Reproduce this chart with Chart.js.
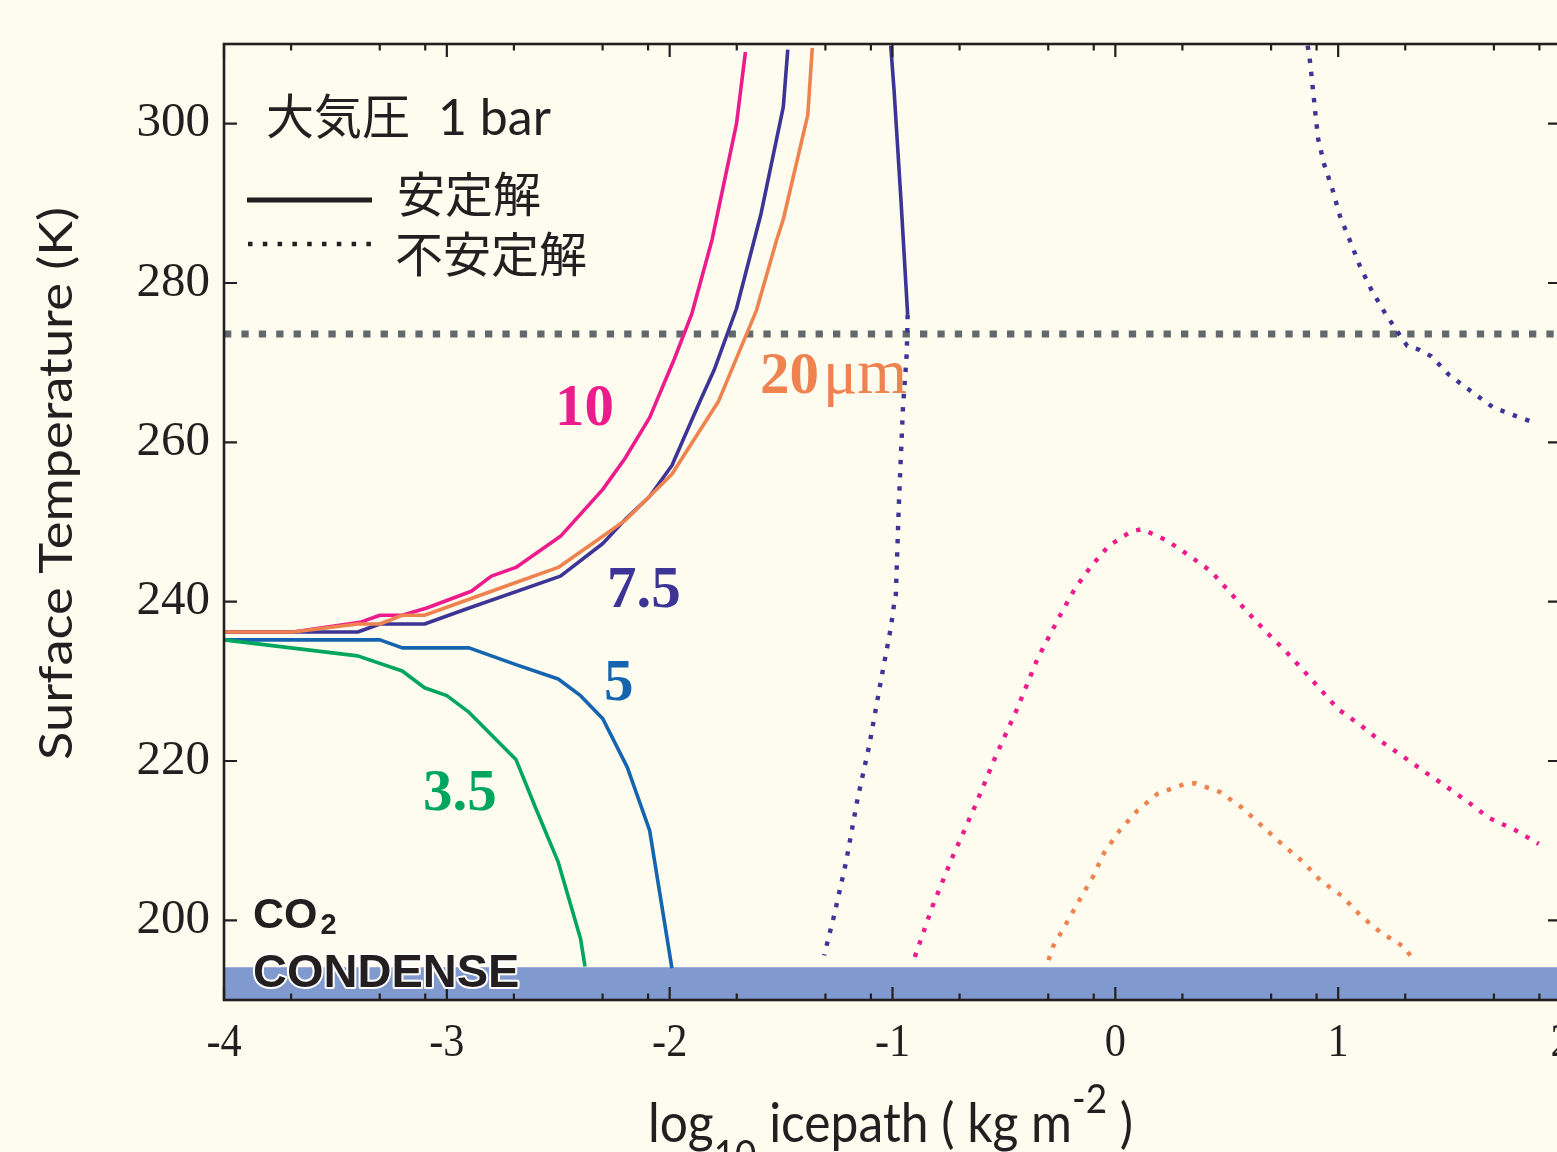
<!DOCTYPE html>
<html>
<head>
<meta charset="utf-8">
<script src="https://cdn.jsdelivr.net/npm/chart.js@4.4.1/dist/chart.umd.min.js"></script>
<style>
  html, body { margin: 0; padding: 0; background: #FEFCEF; overflow: hidden; width: 1557px; height: 1152px; }
  #wrap { width: 1600px; height: 1152px; }
  canvas { display: block; background: #FEFCEF; }
</style>
</head>
<body>
<div id="wrap"><canvas id="c" width="1600" height="1152"></canvas></div>
<script>
// Axis ticks
const xTickValues = [-4, -3, -2, -1, 0, 1, 2];
const yTickValues = [200, 220, 240, 260, 280, 300];
const minorTickMultipliers = [2, 5, 8];

// Reference levels
const meltingT = 273.6;      // 0 °C line as plotted
const condenseT = 194.1;     // CO2 condensation ceiling

// Effective radius 10 µm
const r10StableX = [-4, -3.69, -3.39, -3.30, -3.20, -3.09, -2.89, -2.80, -2.69, -2.49, -2.30, -2.20, -2.09, -1.98, -1.90, -1.81, -1.70, -1.66];
const r10StableT = [236.2, 236.2, 237.4, 238.3, 238.3, 239.2, 241.3, 243.2, 244.3, 248.2, 254.1, 258.0, 263.1, 270.4, 276.2, 285.4, 300.0, 309.0];
const r10UnstableX = [-0.90, -0.82, -0.73, -0.63, -0.54, -0.44, -0.35, -0.24, -0.18, -0.11, -0.03, 0.07, 0.12, 0.23, 0.33, 0.43, 0.51, 0.59, 0.67, 0.76, 0.84, 0.92, 1.00, 1.10, 1.19, 1.29, 1.39, 1.49, 1.59, 1.68, 1.79, 1.90];
const r10UnstableT = [195.4, 201.8, 208.0, 214.3, 220.4, 226.6, 232.8, 238.7, 241.7, 244.4, 247.0, 248.8, 249.1, 247.7, 245.8, 243.8, 241.3, 238.8, 236.4, 233.9, 231.5, 229.0, 226.5, 224.5, 222.5, 220.6, 218.6, 216.7, 214.7, 212.8, 211.4, 209.6];

// Effective radius 7.5 µm
const r75StableX = [-4, -3.69, -3.40, -3.30, -3.10, -2.90, -2.49, -2.30, -2.20, -2.09, -1.99, -1.86, -1.80, -1.70, -1.59, -1.49, -1.47];
const r75StableT = [236.2, 236.2, 236.2, 237.2, 237.2, 239.2, 243.2, 247.3, 250.3, 253.2, 257.1, 265.4, 269.1, 276.8, 288.7, 302.1, 309.3];
const r75Stable2X = [-1.008, -0.993, -0.962, -0.932];
const r75Stable2T = [309.8, 304.2, 290.4, 276.0];
const r75UnstableX = [-0.932, -0.936, -0.944, -0.953, -0.971, -0.985, -0.992, -1.007, -1.052, -1.104, -1.157, -1.210, -1.262, -1.307];
const r75UnstableT = [276.0, 271.2, 267.9, 264.4, 252.6, 240.9, 239.9, 236.8, 230.1, 222.0, 215.2, 207.1, 200.6, 195.6];
const r75Unstable2X = [0.863, 0.872, 0.885, 0.897, 0.910, 0.937, 0.975, 1.008, 1.053, 1.098, 1.150, 1.211, 1.273, 1.310, 1.366, 1.418, 1.500, 1.597, 1.695, 1.807, 1.867];
const r75Unstable2T = [309.8, 308.2, 304.8, 301.5, 298.1, 294.9, 291.7, 288.4, 285.3, 282.1, 279.1, 276.2, 273.6, 272.1, 271.6, 270.8, 268.4, 266.4, 264.4, 263.2, 262.6];

// Effective radius 20 µm
const r20StableX = [-4, -3.69, -3.40, -3.30, -3.20, -3.10, -2.90, -2.69, -2.50, -2.30, -2.20, -1.99, -1.78, -1.61, -1.52, -1.49, -1.38, -1.36];
const r20StableT = [236.2, 236.2, 237.2, 237.2, 238.3, 238.3, 240.3, 242.4, 244.3, 248.2, 250.2, 256.0, 265.2, 276.6, 285.4, 288.0, 301.1, 309.5];
const r20UnstableX = [-0.30, -0.28, -0.22, -0.16, -0.10, -0.05, 0.02, 0.10, 0.19, 0.31, 0.36, 0.47, 0.57, 0.66, 0.75, 0.84, 0.92, 1.02, 1.10, 1.19, 1.30, 1.33];
const r20UnstableT = [195.0, 196.7, 199.6, 202.6, 205.5, 208.5, 211.3, 213.8, 215.9, 217.1, 217.2, 216.1, 214.1, 211.8, 209.5, 207.4, 205.0, 203.0, 200.6, 198.5, 196.6, 195.3];

// Effective radius 5 µm
const r5StableX = [-4, -3.30, -3.20, -2.90, -2.69, -2.50, -2.40, -2.30, -2.19, -2.09, -1.99];
const r5StableT = [235.2, 235.2, 234.2, 234.2, 232.1, 230.3, 228.2, 225.3, 219.2, 211.3, 194.0];

// Effective radius 3.5 µm
const r35StableX = [-4, -3.40, -3.20, -3.10, -3.00, -2.90, -2.69, -2.60, -2.50, -2.40, -2.38];
const r35StableT = [235.2, 233.2, 231.3, 229.2, 228.2, 226.1, 220.2, 214.0, 207.3, 197.7, 194.2];

const C = {
  ink: '#231F20',
  pink: '#EC1C8C',
  purple: '#3C3596',
  orange: '#EE834F',
  blue: '#1464AF',
  green: '#00A65D',
  gray: '#62696C',
  band: '#8099CE'
};

const pts = (xs, ts) => xs.map((x, i) => ({ x, y: ts[i] }));
const solid = (xs, ts, color) => ({
  data: pts(xs, ts), borderColor: color, borderWidth: 3.6, pointRadius: 0,
  fill: false, tension: 0, borderJoinStyle: 'round', order: 1
});
const dotted = (xs, ts, color) => ({
  data: pts(xs, ts), borderColor: color, borderWidth: 4.4, pointRadius: 0,
  fill: false, tension: 0, borderDash: [4.4, 8.8], borderCapStyle: 'butt', order: 1
});

const datasets = [
  { data: pts([-4, 2], [condenseT, condenseT]), borderWidth: 0, borderColor: 'rgba(0,0,0,0)',
    backgroundColor: C.band, fill: 'start', pointRadius: 0, order: 10 },
  { data: pts([-4, 2], [meltingT, meltingT]), borderColor: C.gray, borderWidth: 7,
    borderDash: [7.3, 10.1], borderCapStyle: 'butt', pointRadius: 0, fill: false, order: 5 },
  solid(r35StableX, r35StableT, C.green),
  solid(r5StableX, r5StableT, C.blue),
  solid(r20StableX, r20StableT, C.orange),
  solid(r75StableX, r75StableT, C.purple),
  solid(r10StableX, r10StableT, C.pink),
  solid(r75Stable2X, r75Stable2T, C.purple),
  dotted(r75UnstableX, r75UnstableT, C.purple),
  dotted(r75Unstable2X, r75Unstable2T, C.purple),
  dotted(r10UnstableX, r10UnstableT, C.pink),
  dotted(r20UnstableX, r20UnstableT, C.orange)
];

// Draws a run of text pieces (font size, vertical offset) squeezed to a given width
function drawRuns(ctx, runs, family, width) {
  let total = 0;
  for (const [t, dy, size] of runs) { ctx.font = `${size}px ${family}`; total += ctx.measureText(t).width; }
  ctx.scale(width / total, 1);
  let cx = 0;
  for (const [t, dy, size] of runs) {
    ctx.font = `${size}px ${family}`;
    ctx.fillText(t, cx, dy);
    cx += ctx.measureText(t).width;
  }
}

const decor = {
  id: 'decor',
  afterDatasetsDraw(chart) {
    const { ctx, chartArea: a, scales: { x, y } } = chart;
    ctx.save();
    ctx.strokeStyle = C.ink;
    ctx.fillStyle = C.ink;

    // frame
    ctx.lineWidth = 2.6;
    ctx.strokeRect(a.left, a.top, a.right - a.left, a.bottom - a.top);

    // ticks, all pointing inward
    ctx.lineWidth = 2.2;
    ctx.beginPath();
    for (const v of xTickValues) {
      const px = x.getPixelForValue(v);
      ctx.moveTo(px, a.bottom); ctx.lineTo(px, a.bottom - 13);
      ctx.moveTo(px, a.top); ctx.lineTo(px, a.top + 13);
    }
    for (let d = xTickValues[0]; d < xTickValues[xTickValues.length - 1]; d++) {
      for (const m of minorTickMultipliers) {
        const px = x.getPixelForValue(d + Math.log10(m));
        ctx.moveTo(px, a.bottom); ctx.lineTo(px, a.bottom - 6.5);
        ctx.moveTo(px, a.top); ctx.lineTo(px, a.top + 6.5);
      }
    }
    for (const v of yTickValues) {
      const py = y.getPixelForValue(v);
      ctx.moveTo(a.left, py); ctx.lineTo(a.left + 13, py);
      ctx.moveTo(a.right, py); ctx.lineTo(a.right - 13, py);
    }
    ctx.stroke();

    // tick labels
    ctx.textBaseline = 'alphabetic';
    ctx.font = "49px 'Liberation Serif'";
    ctx.textAlign = 'right';
    for (const v of yTickValues) {
      ctx.fillText(String(v), a.left - 14, y.getPixelForValue(v) + 12.5);
    }
    ctx.textAlign = 'center';
    ctx.font = "47px 'Liberation Serif'";
    for (const v of xTickValues) {
      ctx.save();
      ctx.translate(x.getPixelForValue(v), a.bottom + 56);
      ctx.scale(0.9, 1);
      ctx.fillText(String(v), 0, 0);
      ctx.restore();
    }

    // axis titles
    ctx.textAlign = 'left';
    ctx.save();
    ctx.translate(648, 1142);
    drawRuns(ctx, [['log', 0, 54], ['10', 27, 40], [' icepath ( kg m', 0, 54], ['-2', -29, 40], [' )', 0, 54]], 'Lato', 485);
    ctx.restore();
    ctx.save();
    ctx.translate(72, 760);
    ctx.rotate(-Math.PI / 2);
    drawRuns(ctx, [['Surface Temperature (K)', 0, 46]], 'Lato', 553);
    ctx.restore();

    // legend
    ctx.font = "48px 'Noto Sans CJK JP'";
    ctx.fillText('大気圧', 266, 134);
    ctx.fillText('安定解', 397, 212);
    ctx.fillText('不安定解', 395, 272);
    ctx.font = "50px 'Lato'";
    ctx.fillText('1 bar', 438, 135);
    ctx.lineWidth = 5;
    ctx.beginPath(); ctx.moveTo(247, 200); ctx.lineTo(372, 200); ctx.stroke();
    ctx.lineWidth = 4.5;
    ctx.setLineDash([4.5, 10.3]);
    ctx.beginPath(); ctx.moveTo(248, 244); ctx.lineTo(372, 244); ctx.stroke();
    ctx.setLineDash([]);

    // curve labels
    ctx.font = "bold 59px 'Liberation Serif'";
    ctx.fillStyle = C.pink;   ctx.fillText('10', 555, 425);
    ctx.fillStyle = C.purple; ctx.fillText('7.5', 607, 607);
    ctx.fillStyle = C.blue;   ctx.fillText('5', 604, 700);
    ctx.fillStyle = C.green;  ctx.fillText('3.5', 423, 810);
    ctx.fillStyle = C.orange; ctx.fillText('20', 760, 393);
    const w20 = ctx.measureText('20').width;
    ctx.font = "64px 'Liberation Serif'";
    ctx.fillText('μm', 760 + w20 + 4, 393);

    // CO2 condensation label
    ctx.lineJoin = 'round';
    ctx.strokeStyle = '#FFFFFF';
    ctx.lineWidth = 4;
    ctx.fillStyle = C.ink;
    ctx.font = "bold 43px 'Liberation Sans'";
    ctx.fillText('CO', 253, 928);
    const wCO = ctx.measureText('CO').width;
    ctx.font = "bold 29px 'Liberation Sans'";
    ctx.fillText('2', 253 + wCO + 3, 934);
    ctx.font = "bold 47px 'Liberation Sans'";
    ctx.strokeText('CONDENSE', 253, 987);
    ctx.fillText('CONDENSE', 253, 987);

    ctx.restore();
  }
};

new Chart(document.getElementById('c'), {
  type: 'line',
  data: { datasets },
  options: {
    responsive: false,
    animation: false,
    events: [],
    layout: { padding: { left: 224, top: 44, right: 39, bottom: 152 } },
    scales: {
      x: { type: 'linear', min: -4, max: 2, display: false },
      y: { type: 'linear', min: 190, max: 310, display: false }
    },
    plugins: { legend: { display: false }, tooltip: { enabled: false } }
  },
  plugins: [decor]
});
</script>
</body>
</html>
